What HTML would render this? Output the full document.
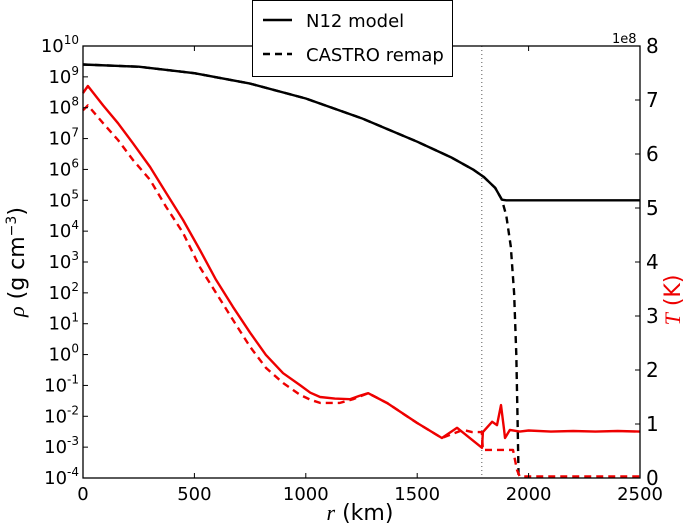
<!DOCTYPE html>
<html><head><meta charset="utf-8"><style>
body{margin:0;background:#fff}
svg text{font-family:"DejaVu Sans","Liberation Sans",sans-serif}
</style></head><body>
<svg id="c" width="686" height="525" xmlns="http://www.w3.org/2000/svg"></svg>
<script>
const rhoR=[0,250,500,750,1000,1250,1500,1650,1750,1800,1850,1880,1900,2500];
const rhoModel=[9.4,9.33,9.12,8.78,8.3,7.66,6.9,6.4,6.0,5.75,5.4,5.02,5.0,5.0];
const rhoRemapR=[0,250,500,750,1000,1250,1500,1650,1750,1800,1850,1880,1900,1920,1935,1945,1950,1955];
const rhoRemap=[9.4,9.33,9.12,8.78,8.3,7.66,6.9,6.4,6.0,5.75,5.4,5.02,4.5,3.5,2,0,-2,-4];
const tR=[0,22,90,157,224,301,373,449,525,597,673,750,821,898,974,1020,1064,1130,1198,1240,1280,1364,1499,1611,1679,1791,1795,1836,1858,1876,1890,1894,1916,1960,2000,2100,2200,2300,2400,2500];
const tModel=[7.13,7.26,6.9,6.57,6.2,5.76,5.28,4.78,4.22,3.67,3.17,2.69,2.28,1.94,1.72,1.58,1.5,1.47,1.46,1.52,1.57,1.39,1.02,0.74,0.93,0.56,0.85,1.04,0.98,1.35,0.89,0.74,0.89,0.86,0.88,0.86,0.87,0.86,0.87,0.86];
const tRemapR=[0,22,90,157,224,301,373,449,525,597,673,750,821,898,974,1020,1064,1153,1212,1280,1364,1499,1611,1706,1746,1790,1795,1930,1948,1960,2500];
const tRemap=[6.81,6.9,6.57,6.26,5.89,5.52,5.02,4.54,3.9,3.43,2.93,2.43,2.04,1.76,1.54,1.45,1.39,1.39,1.46,1.57,1.39,1.02,0.74,0.89,0.85,0.85,0.52,0.52,0.15,0.03,0.03];
const xTicks=[0,500,1000,1500,2000,2500];
const yExps=[-4,-3,-2,-1,0,1,2,3,4,5,6,7,8,9,10];
const tTicks=[0,1,2,3,4,5,6,7,8];
const L=83,R=640,T=46,B=478;
const X=r=>L+(R-L)*r/2500;
const Y=e=>B-(B-T)*(e+4)/14;
const YT=t=>B-(B-T)*t/8;
const svg=document.getElementById('c');
const NS='http://www.w3.org/2000/svg';
function mk(tag,attrs,parent){const e=document.createElementNS(NS,tag);for(const k in attrs)e.setAttribute(k,attrs[k]);(parent||svg).appendChild(e);return e;}
function path(rs,vs,f,stroke,dash,name){
  const d=rs.map((r,i)=>(i?'L':'M')+X(r).toFixed(1)+','+f(vs[i]).toFixed(1)).join(' ');
  const p=mk('path',{d:d,fill:'none',stroke:stroke,'stroke-width':2.4,'stroke-dasharray':dash||'none','stroke-linejoin':'round'});
  
  
}
const vl=mk('line',{x1:X(1790),x2:X(1790),y1:T,y2:B,stroke:'#555','stroke-width':1,'stroke-dasharray':'1,3'});


path(rhoRemapR,rhoRemap,Y,'#000','7,5','rho-castro-remap');
path(rhoR,rhoModel,Y,'#000','','rho-n12-model');
path(tRemapR,tRemap,YT,'#e00','7,5','temp-castro-remap');
path(tR,tModel,YT,'#e00','','temp-n12-model');
const fr=mk('rect',{x:L,y:T,width:R-L,height:B-T,fill:'none',stroke:'#000','stroke-width':1.3});


xTicks.forEach(v=>{
  mk('line',{x1:X(v),x2:X(v),y1:B,y2:B-5,stroke:'#000'});
  mk('line',{x1:X(v),x2:X(v),y1:T,y2:T+5,stroke:'#000'});
  const t=mk('text',{x:X(v),y:B+22,'text-anchor':'middle','font-size':18});t.textContent=v;
  
  
});
yExps.forEach(e=>{
  mk('line',{x1:L,x2:L+5,y1:Y(e),y2:Y(e),stroke:'#000'});
  const t=mk('text',{x:L-4,y:Y(e)+6,'text-anchor':'end','font-size':18});
  t.innerHTML='10<tspan dy="-8" font-size="12">'+e+'</tspan>';
  
  
});
tTicks.forEach(v=>{
  mk('line',{x1:R-5,x2:R,y1:YT(v),y2:YT(v),stroke:'#000'});
  const t=mk('text',{x:R+6,y:YT(v)+7,'font-size':20});t.textContent=v;
  
  
});
</script>
<svg width="686" height="525" style="position:absolute;left:0;top:0" xmlns="http://www.w3.org/2000/svg">
<text x="612" y="43" font-size="13">1e8</text>
<text x="360" y="520" text-anchor="middle" font-size="22"><tspan font-style="italic" font-family="Liberation Serif">r</tspan> (km)</text>
<text transform="translate(24,262) rotate(-90)" text-anchor="middle" font-size="22"><tspan font-style="italic" font-family="Liberation Serif">ρ</tspan> (g cm<tspan dy="-8" font-size="14">−3</tspan><tspan dy="8">)</tspan></text>
<text transform="translate(680,300) rotate(-90)" text-anchor="middle" font-size="22" fill="#e00"><tspan font-style="italic" font-family="Liberation Serif">T</tspan> (K)</text>
<g>
<rect x="252.5" y="0.5" width="200" height="76" fill="#fff" stroke="#000"/>
<line x1="263" x2="292" y1="20" y2="20" stroke="#000" stroke-width="2.4"/>
<text x="306" y="27" font-size="18">N12 model</text>
<line x1="263" x2="292" y1="54" y2="54" stroke="#000" stroke-width="2.4" stroke-dasharray="7,5"/>
<text x="306" y="61" font-size="18">CASTRO remap</text>
</g>
</svg>
</body></html>
